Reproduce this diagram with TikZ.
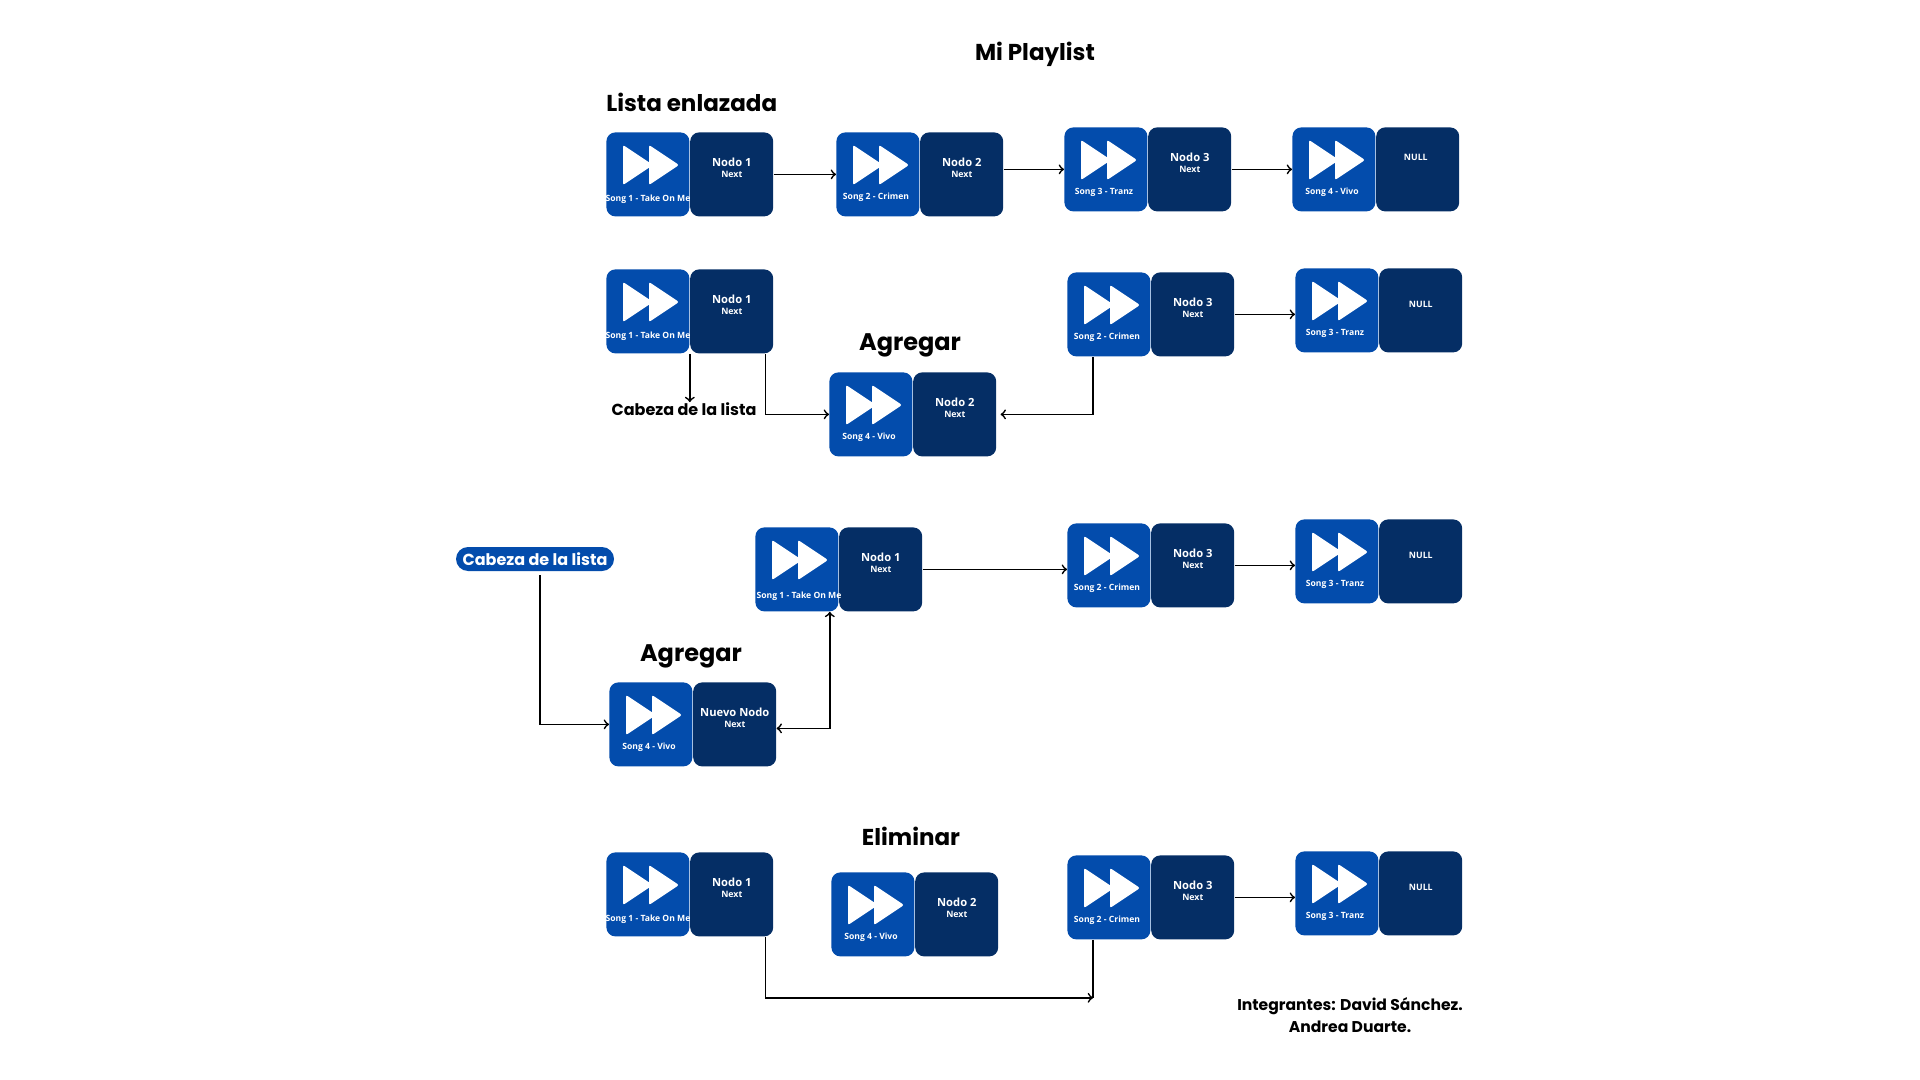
\documentclass[tikz,border=0pt]{standalone}
\usepackage{fontspec}
\usetikzlibrary{positioning}
\setmainfont{Open Sans}
\newfontfamily\headfont{Poppins}
\definecolor{songblue}{HTML}{034CAC}
\definecolor{nextblue}{HTML}{052E65}
\tikzset{
    songbox/.style={fill=songblue, rounded corners=4.5pt, minimum width=41.5pt, minimum height=42pt, inner sep=0pt, anchor=north west},
    nextbox/.style={fill=nextblue, rounded corners=4.5pt, minimum width=41.5pt, minimum height=42pt, inner sep=0pt},
    songtext/.style={text=white, font=\bfseries\fontsize{4.3}{5}\selectfont, inner sep=0pt},
    titletext/.style={text=white, font=\bfseries\fontsize{5.6}{6}\selectfont, inner sep=0pt},
    nexttext/.style={text=white, font=\bfseries\fontsize{4.4}{5}\selectfont, inner sep=0pt},
    headtext/.style={font=\headfont\bfseries\fontsize{11.5}{14}\selectfont, inner sep=0pt},
    addtext/.style={font=\headfont\bfseries\fontsize{12}{14}\selectfont, inner sep=0pt},
    cabezatext/.style={font=\headfont\bfseries\fontsize{8}{10}\selectfont, inner sep=0pt},
    membertext/.style={font=\headfont\bfseries\fontsize{7.8}{11}\selectfont, inner sep=0pt, align=center},
    headpill/.style={fill=songblue, text=white, rounded corners=6pt, minimum width=79pt, minimum height=12pt, inner sep=0pt, font=\headfont\bfseries\fontsize{8}{10}\selectfont},
    link/.style={->, line width=0.85pt},
    plainlink/.style={line width=0.85pt}
}
% blue square with the play icon, dark square beside it
\newcommand{\songbase}[5][40,65]{
    \node[songbox] (#2song) at (#3,#4) {};
    \node[nextbox, right=0pt of #2song] (#2next) {};
    \fill[white, rounded corners=1pt] ([shift={(17,13)}]#2song.north west) -- ++(0,40) -- ++(30,-20) -- cycle;
    \fill[white, rounded corners=1pt] ([shift={(43,13)}]#2song.north west) -- ++(0,40) -- ++(30,-20) -- cycle;
    \node[songtext] (#2label) at ([shift={(#1)}]#2song.north west) {#5};
}
\newcommand{\songcard}[6][40,65]{
    \songbase[#1]{#2}{#3}{#4}{#5}
    \node[titletext] (#2title) at ([shift={(42,30)}]#2next.north west) {#6};
    \node[nexttext] (#2nextlabel) at ([shift={(42,42)}]#2next.north west) {Next};
}
\newcommand{\nullcard}[5][42,36]{
    \songbase{#2}{#3}{#4}{#5}
    \node[nexttext] (#2null) at ([shift={(#1)}]#2next.north west) {NULL};
}
\begin{document}
\begin{tikzpicture}[x=0.5pt, y=-0.5pt]
    \useasboundingbox (0,0) rectangle (1920,1080);
    \node[headtext] (playlist) at (1035,54) {Mi Playlist};
    \node[headtext, anchor=west] (enlazada) at (606,102) {Lista enlazada};
    % I
    \songcard[42,67]{take}{606}{132}{Song 1 - Take On Me}{Nodo 1}
    \songcard{crimen}{836}{132}{Song 2 - Crimen}{Nodo 2}
    \songcard{tranz}{1064}{127}{Song 3 - Tranz}{Nodo 3}
    \nullcard[40,30]{vivo}{1292}{127}{Song 4 - Vivo}
    \draw[link] (takenext.east) -- (takenext.east -| crimensong.west);
    \draw[link] (tranzsong.west -| crimennext.east) -- (tranzsong.west);
    \draw[link] (tranznext.east) -- (vivosong.west);
    % II
    \node[addtext] (agregarA) at (910,345) {Agregar};
    \node[cabezatext] (cabezaA) at (684,409) {Cabeza de la lista};
    \songcard[42,67]{takeA}{606}{269}{Song 1 - Take On Me}{Nodo 1}
    \songcard{vivoA}{829}{372}{Song 4 - Vivo}{Nodo 2}
    \songcard{crimenA}{1067}{272}{Song 2 - Crimen}{Nodo 3}
    \nullcard{tranzA}{1295}{268}{Song 3 - Tranz}
    \draw[link] (takeAsong.south east) -- (takeAsong.south east |- cabezaA.north);
    \draw[link] ([xshift=-4pt]takeAnext.south east) |- (vivoAsong.west);
    \draw[link] ([xshift=13pt]crimenAsong.south west) |- ([xshift=2pt]vivoAnext.east);
    \draw[link] (crimenAnext.east) -- (crimenAnext.east -| tranzAsong.west);
    % III
    \node[headpill] (cabezaB) at (535,559) {Cabeza de la lista};
    \node[addtext] (agregarB) at (691,656) {Agregar};
    \songcard[44,69]{takeB}{755}{527}{Song 1 - Take On Me}{Nodo 1}
    \songcard{crimenB}{1067}{523}{Song 2 - Crimen}{Nodo 3}
    \nullcard{tranzB}{1295}{519}{Song 3 - Tranz}
    \songcard{vivoB}{609}{682}{Song 4 - Vivo}{Nuevo Nodo}
    \draw[link] (takeBnext.east) -- (takeBnext.east -| crimenBsong.west);
    \draw[link] (crimenBnext.east) -- (crimenBnext.east -| tranzBsong.west);
    \draw[link] ([xshift=2.5pt, yshift=-2pt]cabezaB.south) |- (vivoBsong.west);
    \draw[link, <->] ([yshift=-2pt]vivoBnext.east) -| ([xshift=-4.5pt]takeBsong.south east);
    % IV
    \node[headtext] (eliminar) at (911,836) {Eliminar};
    \songcard[42,67]{takeC}{606}{852}{Song 1 - Take On Me}{Nodo 1}
    \songcard{vivoC}{831}{872}{Song 4 - Vivo}{Nodo 2}
    \songcard{crimenC}{1067}{855}{Song 2 - Crimen}{Nodo 3}
    \nullcard{tranzC}{1295}{851}{Song 3 - Tranz}
    \coordinate (elimjoin) at ([xshift=13pt, yshift=-29pt]crimenCsong.south west);
    \draw[link] ([xshift=-4pt]takeCnext.south east) |- (elimjoin);
    \draw[plainlink] ([xshift=13pt]crimenCsong.south west) -- (elimjoin);
    \draw[link] (crimenCnext.east) -- (crimenCnext.east -| tranzCsong.west);
    \node[membertext] (integrantes) at (1350,1015) {Integrantes: David Sánchez.\\Andrea Duarte.};
\end{tikzpicture}
\end{document}
